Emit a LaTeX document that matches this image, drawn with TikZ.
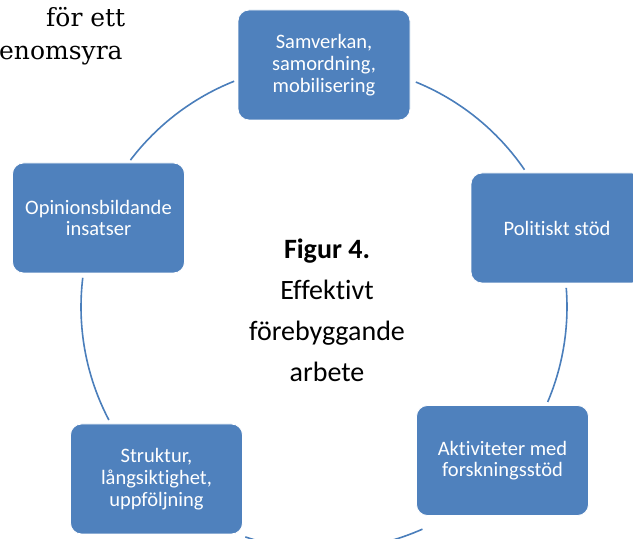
\documentclass[tikz,border=0pt]{standalone}
\usepackage{fontspec}
\setmainfont{Carlito}[Ligatures = NoCommon]
\newfontfamily\bodyserif{DejaVu Serif}
\definecolor{boxblue}{HTML}{4F81BD}
\definecolor{ringblue}{HTML}{4A7EBB}
\tikzset {
    cycle box/.style = {
        rectangle, rounded corners = 11pt,
        fill = boxblue, draw = white, line width = 0.8pt,
        minimum width = 172pt, minimum height = 110pt,
        inner sep = 0pt, align = center, text = white,
        font = \fontsize{20.5}{21.7}\selectfont
    },
    ring line/.style = {draw = ringblue, line width = 1.6pt},
    body text/.style = {inner sep = 0pt, font = \bodyserif\fontsize{25}{33}\selectfont}
}

\begin{document}
\begin{tikzpicture}[x = 1pt, y = 1pt]
    \useasboundingbox (0, 0) rectangle (633, 539);
    \coordinate (o) at (324, 232);
    \node [body text, anchor = base west] (line1) at (46, 512) {för ett};
    \node [body text, anchor = base west] (line2) at (-1, 479) {enomsyra};
    \draw [ring line] (o) ++(142.8:243) arc [start angle = 142.8, end angle = 111.7, radius = 243pt];
    \draw [ring line] (o) ++(67.8:243) arc [start angle = 67.8, end angle = 34.4, radius = 243pt];
    \draw [ring line] (o) ++(4.5:243) arc [start angle = 4.5, end angle = -23, radius = 243pt];
    \draw [ring line] (o) ++(-66.1:243) arc [start angle = -66.1, end angle = -108.9, radius = 243pt];
    \draw [ring line] (o) ++(-152.3:243) arc [start angle = -152.3, end angle = -186.9, radius = 243pt];
    \node [cycle box] (samverkan) at (324, 474) {Samverkan,\\samordning,\\mobilisering};
    \node [cycle box] (politik) at (557, 311) {Politiskt stöd};
    \node [cycle box] (aktivitet) at (502.5, 78.5) {Aktiviteter med\\forskningsstöd};
    \node [cycle box] (struktur) at (156.5, 60) {Struktur,\\långsiktighet,\\uppföljning};
    \node [cycle box] (opinion) at (98.5, 321) {Opinionsbildande\\insatser};
    \node [align = center, inner sep = 0pt, font = \fontsize{28}{41}\selectfont] (figur) at (327, 229)
        {\textbf{Figur 4.}\\Effektivt\\förebyggande\\arbete};
\end{tikzpicture}
\end{document}
